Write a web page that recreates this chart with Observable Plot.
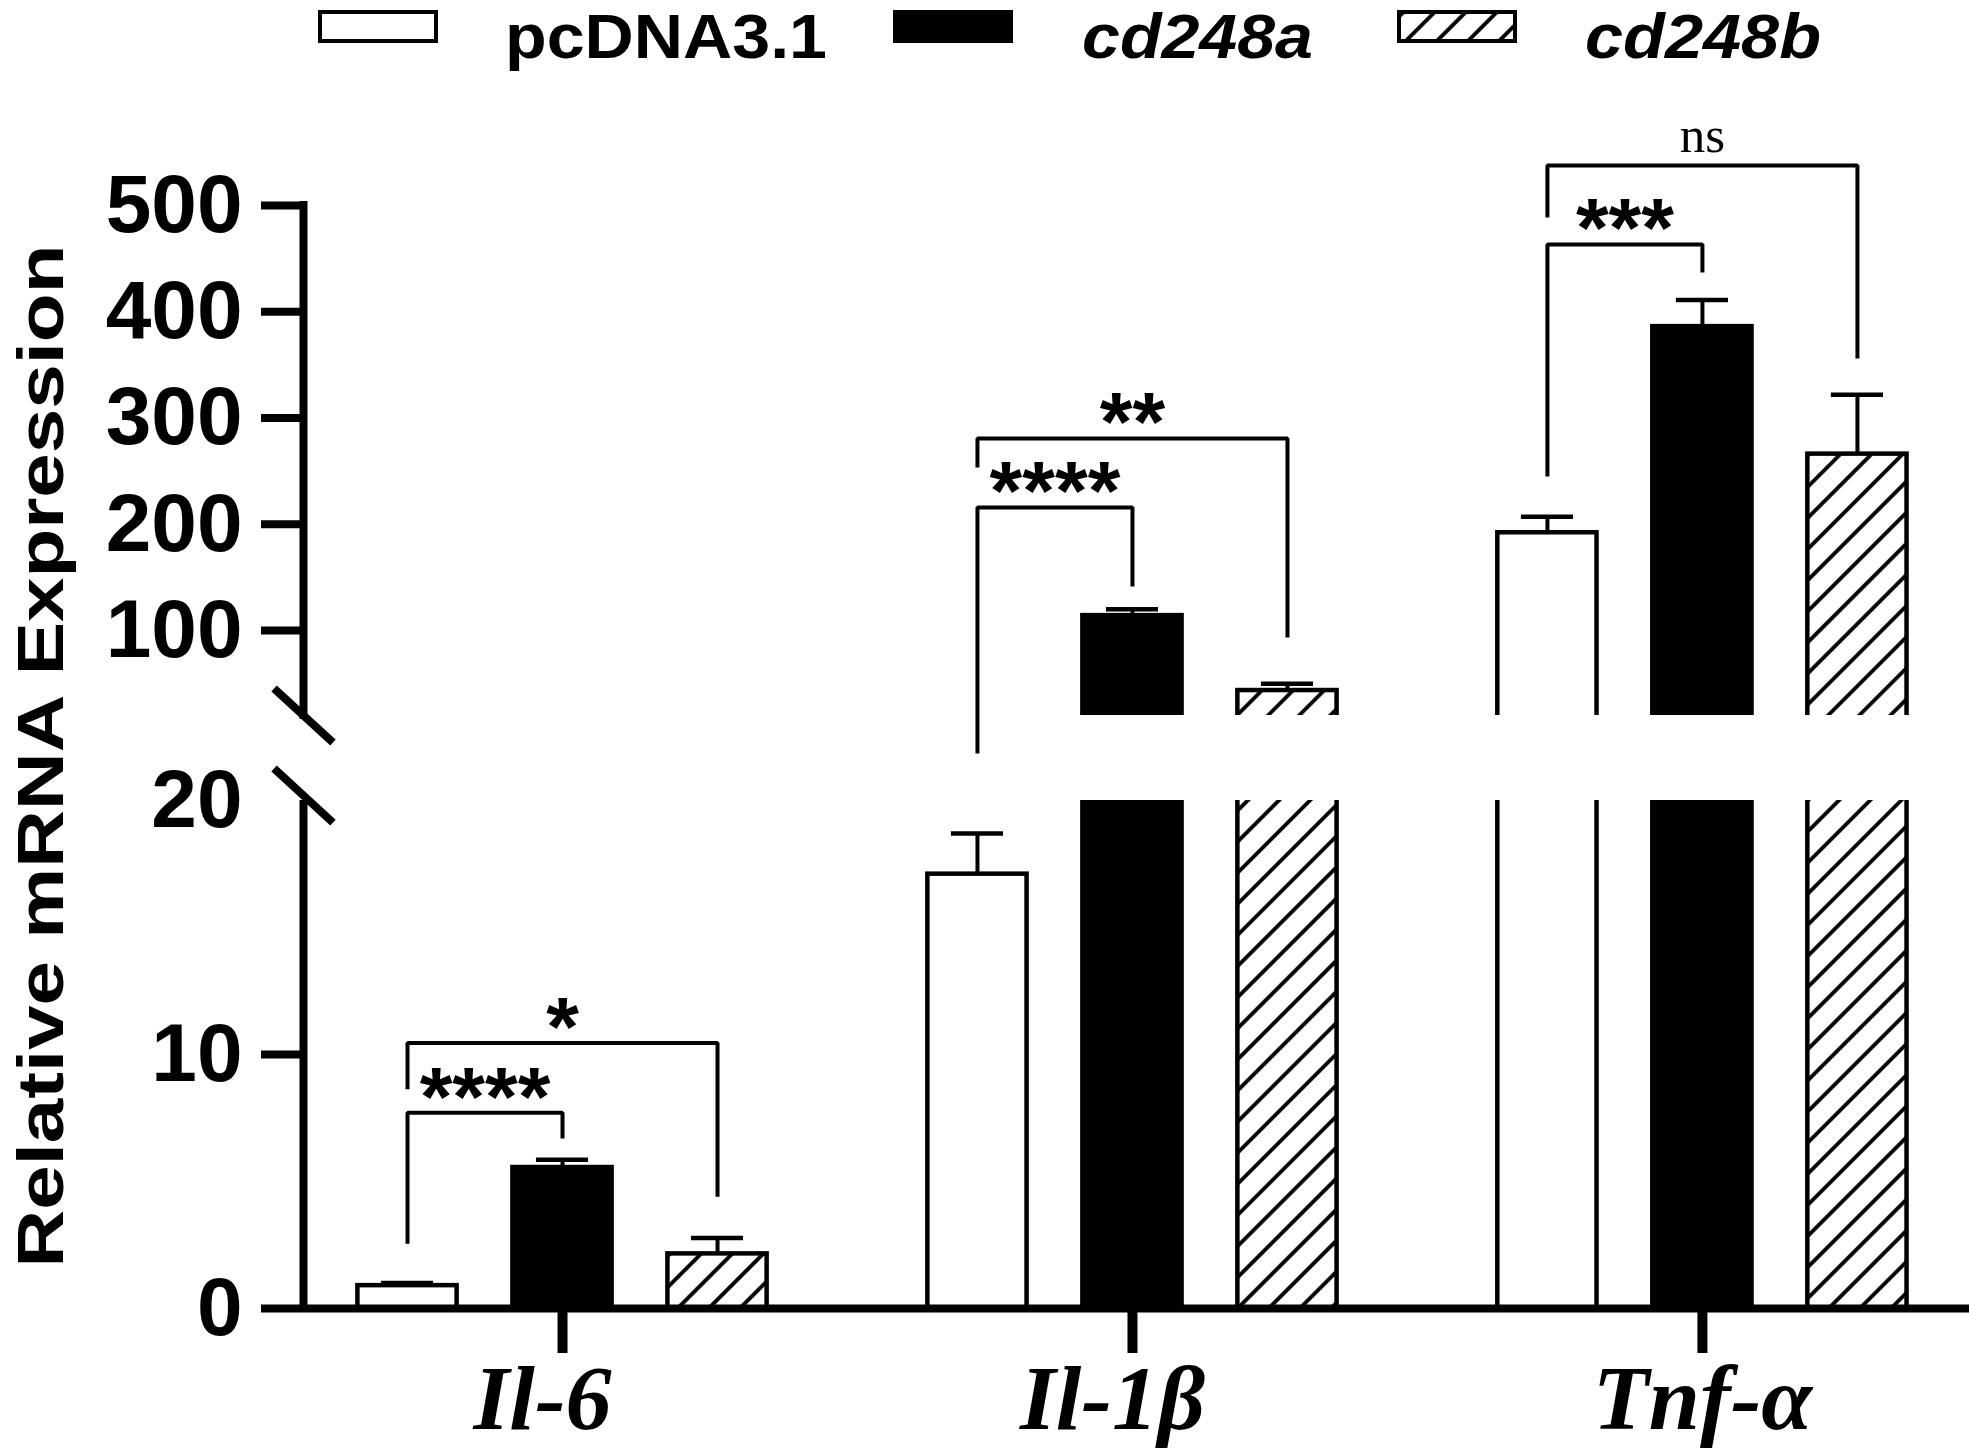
<!DOCTYPE html>
<html>
<head>
<meta charset="utf-8">
<script src="https://cdn.jsdelivr.net/npm/d3@7"></script>
<script src="https://cdn.jsdelivr.net/npm/@observablehq/plot@0.6"></script>
<style>
  body { margin: 0; background: #fff; }
  #chart svg { display: block; background: white; }
</style>
</head>
<body>
<div id="chart"></div>
<script>
// ---------------- data ----------------
const genes = ["Il-6", "Il-1β", "Tnf-α"];
const groups = ["pcDNA3.1", "cd248a", "cd248b"];
const pcDNA31 = [0.9, 17.1, 192];
const cd248a = [5.55, 114, 386];
const cd248b = [2.15, 43.5, 266];
const pcDNA31Err = [0.1, 1.6, 15];
const cd248aErr = [0.31, 6, 25];
const cd248bErr = [0.63, 6.5, 56];
const upperTicks = [100, 200, 300, 400, 500];
const lowerTicks = [0, 10];
const breakValue = 20;
const upperMax = 500;
// significance brackets (pcDNA3.1 vs ...)
const compGene = ["Il-6", "Il-6", "Il-1β", "Il-1β", "Tnf-α", "Tnf-α"];
const compVs = ["cd248a", "cd248b", "cd248a", "cd248b", "cd248a", "cd248b"];
const compLabel = ["****", "*", "****", "**", "***", "ns"];
const compLevel = [7.71, 10.45, 215.8, 280.7, 463.3, 537.6];
const compLeftEnd = [2.55, 8.63, -15.8, 253.4, 244.9, 488.7];
const compRightEnd = [6.69, 4.40, 141.4, 93.4, 437, 356];

// ---------------- layout ----------------
const W = 1969, H = 1455, legendH = 70, upperH = 687, lowerH = 698;
const SANS = "'Liberation Sans', Arial, Helvetica, sans-serif";
const SERIF = "'Liberation Serif', 'Times New Roman', serif";
const groupStep = 3.677;            // slot units between gene groups
const xDomain = [-0.671, 10.077];   // slot units across the frame
const halfBar = 0.32, halfCap = 0.168, breakHalfX = 0.19;
const fills = ["white", "black", "url(#hatch)"];
const slot = (g, s) => g * groupStep + s;

const seriesValues = [pcDNA31, cd248a, cd248b];
const seriesErr = [pcDNA31Err, cd248aErr, cd248bErr];
const rows = genes.flatMap((gene, g) => groups.map((grp, s) => ({
  gene, group: grp, g, s, x: slot(g, s), mean: seriesValues[s][g], err: seriesErr[s][g]
})));

const comps = compGene.map((gene, i) => {
  const g = genes.indexOf(gene), s = groups.indexOf(compVs[i]);
  const xl = slot(g, 0), xr = slot(g, s);
  return {i, gene, label: compLabel[i], xl, xr, xm: (xl + xr) / 2,
          level: compLevel[i], legL: compLeftEnd[i], legR: compRightEnd[i]};
});
const bracketPts = cs => cs.flatMap(c => [
  {id: c.i, x: c.xl, y: c.legL}, {id: c.i, x: c.xl, y: c.level},
  {id: c.i, x: c.xr, y: c.level}, {id: c.i, x: c.xr, y: c.legR}
]);

function dataMarks(bars, errs) {
  return [
    ...groups.map((grp, s) => Plot.rect(bars.filter(d => d.s === s), {
      x1: d => d.x - halfBar, x2: d => d.x + halfBar, y1: 0, y2: "mean",
      fill: fills[s], stroke: "black", strokeWidth: 4.5, clip: true
    })),
    Plot.ruleX(errs, {x: "x", y1: "mean", y2: d => d.mean + d.err, stroke: "black", strokeWidth: 4, clip: true}),
    Plot.ruleY(errs, {y: d => d.mean + d.err, x1: d => d.x - halfCap, x2: d => d.x + halfCap,
      stroke: "black", strokeWidth: 4.5, clip: true})
  ];
}
function compMarks(cs) {
  return [
    Plot.line(bracketPts(cs), {x: "x", y: "y", z: "id", stroke: "black", strokeWidth: 4,
      strokeLinejoin: "miter", strokeLinecap: "butt"}),
    Plot.text(cs.filter(c => c.label !== "ns"), {x: "xm", y: "level", text: "label",
      fontSize: 84, fontWeight: "bold", fontFamily: SANS, lineAnchor: "middle", dy: -14}),
    Plot.text(cs.filter(c => c.label === "ns"), {x: "xm", y: "level", text: "label",
      fontSize: 51, fontFamily: SERIF, lineAnchor: "middle", dy: -30})
  ];
}
const axisTextOpts = {fontSize: 82, fontWeight: "bold", fontFamily: SANS, label: null};
const geneTextOpts = {fontSize: 92, fontFamily: SERIF, fontStyle: "italic", fontWeight: "bold", label: null};

// ---------------- upper panel (20–500) ----------------
const upperBars = rows.filter(d => d.mean > breakValue);
const upperErrs = rows.filter(d => d.mean + d.err > breakValue);
const upper = Plot.plot({
  width: W, height: upperH, marginLeft: 303, marginRight: 0, marginTop: 135, marginBottom: 42,
  x: {domain: xDomain, axis: null},
  y: {domain: [breakValue, upperMax]},
  marks: [
    ...dataMarks(upperBars, upperErrs),
    Plot.ruleX([xDomain[0]], {x: d => d, y1: breakValue, y2: upperMax, strokeWidth: 8, strokeLinecap: "square"}),
    Plot.axisY(upperTicks, {...axisTextOpts, tickSize: 42, tickPadding: 19, strokeWidth: 8}),
    Plot.link([breakValue], {x1: xDomain[0] - breakHalfX, x2: xDomain[0] + breakHalfX,
      y1: d => d + 25.4, y2: d => d - 25.4, strokeWidth: 8}),
    ...compMarks(comps.filter(c => c.gene !== "Il-6"))
  ]
});

// ---------------- lower panel (0–20) ----------------
const lowerErrs = rows.filter(d => d.mean < breakValue);
const tickSlots = genes.map((g, i) => slot(i, 1));
const geneBySlot = new Map(tickSlots.map((t, i) => [t, genes[i]]));
const ilSlots = tickSlots.filter((t, i) => genes[i].startsWith("Il"));
const otherSlots = tickSlots.filter((t, i) => !genes[i].startsWith("Il"));
const lower = Plot.plot({
  width: W, height: lowerH, marginLeft: 303, marginRight: 0, marginTop: 43, marginBottom: 147,
  x: {domain: xDomain},
  y: {domain: [0, breakValue]},
  marks: [
    ...dataMarks(rows, lowerErrs),
    Plot.ruleX([xDomain[0]], {x: d => d, y1: 0, y2: breakValue, strokeWidth: 8}),
    Plot.ruleY([0], {strokeWidth: 8}),
    Plot.axisY(lowerTicks, {...axisTextOpts, tickSize: 42, tickPadding: 19, strokeWidth: 8}),
    Plot.axisY([breakValue], {...axisTextOpts, tickSize: 0, tickPadding: 61}),
    Plot.axisX(tickSlots, {tickFormat: () => "", tickSize: 45, strokeWidth: 10, label: null}),
    Plot.axisX(ilSlots, {...geneTextOpts, tickFormat: d => geneBySlot.get(d), tickSize: 0, tickPadding: 55, dx: -20}),
    Plot.axisX(otherSlots, {...geneTextOpts, tickFormat: d => geneBySlot.get(d), tickSize: 0, tickPadding: 55}),
    Plot.link([breakValue], {x1: xDomain[0] - breakHalfX, x2: xDomain[0] + breakHalfX,
      y1: d => d + 1.26, y2: d => d - 0.87, strokeWidth: 8}),
    ...compMarks(comps.filter(c => c.gene === "Il-6"))
  ]
});

// ---------------- one SVG holding both panels ----------------
const outer = d3.select("#chart").append("svg")
  .attr("width", W).attr("height", H).attr("viewBox", `0 0 ${W} ${H}`);
const defs = outer.append("defs");
const pat = defs.append("pattern").attr("id", "hatch").attr("patternUnits", "userSpaceOnUse")
  .attr("width", 22).attr("height", 22).attr("patternTransform", "rotate(45)");
pat.append("rect").attr("width", 22).attr("height", 22).attr("fill", "white");
pat.append("line").attr("x1", 11).attr("y1", -1).attr("x2", 11).attr("y2", 23)
  .attr("stroke", "black").attr("stroke-width", 3.8);

function embed(plotSvg, y) {
  const g = outer.append("g").attr("transform", `translate(0,${y})`);
  for (const a of ["fill", "font-family", "font-size", "text-anchor", "class"]) {
    if (plotSvg.hasAttribute(a)) g.attr(a, plotSvg.getAttribute(a));
  }
  while (plotSvg.firstChild) g.node().append(plotSvg.firstChild);
}
embed(upper, legendH);
embed(lower, legendH + upperH);

// ---------------- legend ----------------
const legendSwatchX = [320, 895, 1399];
const legendTextX = [505, 1082, 1585];
const leg = outer.append("g").attr("aria-label", "legend");
groups.forEach((grp, i) => {
  leg.append("rect").attr("x", legendSwatchX[i]).attr("y", 12).attr("width", 116).attr("height", 29)
    .attr("fill", fills[i]).attr("stroke", "black").attr("stroke-width", 4);
  leg.append("text").attr("x", legendTextX[i]).attr("y", 58).text(grp)
    .attr("font-family", SANS).attr("font-weight", "bold").attr("font-size", 63)
    .attr("textLength", [322, 231, 236][i]).attr("lengthAdjust", "spacingAndGlyphs")
    .attr("font-style", i === 0 ? "normal" : "italic");
});

// ---------------- y axis title ----------------
outer.append("text")
  .attr("transform", "translate(63,756) rotate(-90)")
  .attr("text-anchor", "middle")
  .attr("font-family", SANS).attr("font-weight", "bold").attr("font-size", 64)
  .attr("textLength", 1023).attr("lengthAdjust", "spacingAndGlyphs")
  .text("Relative mRNA Expression");
</script>
</body>
</html>
